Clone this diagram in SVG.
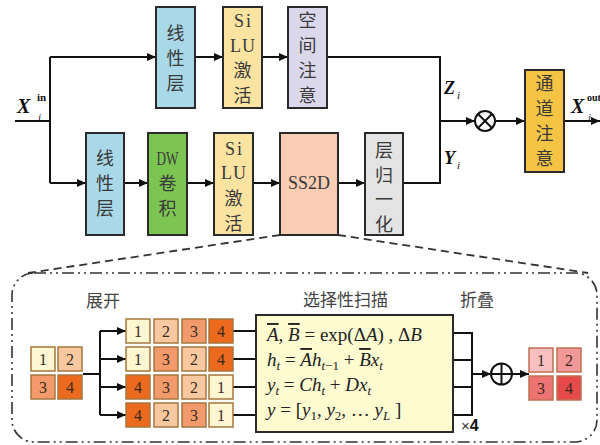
<svg xmlns="http://www.w3.org/2000/svg" width="600" height="445" viewBox="0 0 600 445">
<defs>
<marker id="arr" markerWidth="9" markerHeight="8" refX="9" refY="4" orient="auto" markerUnits="userSpaceOnUse">
<path d="M0,0 L9,4 L0,8 z" fill="#111"/>
</marker>
<style>
.box{stroke:#2a2a2a;stroke-width:2}
.cjk{font-family:"Noto Sans CJK SC","Noto Sans",sans-serif;font-size:18px;fill:#3a3a3a;text-anchor:middle}
.lat{font-family:"Liberation Serif",serif;font-size:18px;fill:#3a3a3a;text-anchor:middle}
.ln{fill:none;stroke:#111;stroke-width:2}
.var{font-family:"Liberation Serif",serif;font-weight:bold;font-style:italic;fill:#111}
.sup{font-family:"Liberation Serif",serif;font-weight:bold;font-style:normal;fill:#111}
.sub{font-family:"Liberation Serif",serif;font-weight:normal;font-style:italic;fill:#111}
.cell{stroke:#a5773e;stroke-width:1.5}
.c1{fill:#fff6d2}.c2{fill:#f8c8a0}.c3{fill:#f29a6c}.c4{fill:#ec6a1e}
.p1{fill:#f8c0c0}.p2{fill:#f29898}.p3{fill:#ee7474}.p4{fill:#e64a4a}
.pcell{stroke:#c07050;stroke-width:1.5}
.num{font-family:"Liberation Serif",serif;font-size:16px;fill:#3a2a1a;text-anchor:middle}
.lab{font-family:"Noto Sans CJK SC","Noto Sans",sans-serif;font-size:17px;fill:#444}
.math{font-family:"Liberation Serif",serif;font-style:italic;font-size:19px;fill:#222}
.up{font-style:normal}
</style>
</defs>
<rect width="600" height="445" fill="#ffffff"/>

<!-- dash-dot frame and dashed zoom lines -->
<g id="frame">
<rect x="12" y="273" width="585" height="169" rx="22" fill="none" stroke="#333" stroke-width="1.6" stroke-dasharray="12 4 2 4 2 4"/>
<line x1="280" y1="235" x2="28" y2="273" stroke="#333" stroke-width="1.8" stroke-dasharray="8 5"/>
<line x1="338" y1="235" x2="588" y2="273" stroke="#333" stroke-width="1.8" stroke-dasharray="8 5"/>
</g>

<g id="connectors">
<polyline class="ln" points="15,121 50,121"/>
<polyline class="ln" points="50,57 50,183"/>
<line class="ln" x1="50" y1="57" x2="156" y2="57" marker-end="url(#arr)"/>
<line class="ln" x1="195" y1="57" x2="223" y2="57" marker-end="url(#arr)"/>
<line class="ln" x1="262" y1="57" x2="288" y2="57" marker-end="url(#arr)"/>
<polyline class="ln" points="327,57 440,57 440,183 403,183"/>
<line class="ln" x1="50" y1="183" x2="86" y2="183" marker-end="url(#arr)"/>
<line class="ln" x1="124" y1="183" x2="148" y2="183" marker-end="url(#arr)"/>
<line class="ln" x1="187" y1="183" x2="214" y2="183" marker-end="url(#arr)"/>
<line class="ln" x1="253" y1="183" x2="280" y2="183" marker-end="url(#arr)"/>
<line class="ln" x1="338" y1="183" x2="365" y2="183" marker-end="url(#arr)"/>
<line class="ln" x1="440" y1="121" x2="475" y2="121" marker-end="url(#arr)"/>
<line class="ln" x1="495" y1="121" x2="525" y2="121" marker-end="url(#arr)"/>
<line class="ln" x1="564" y1="121" x2="600" y2="121" marker-end="url(#arr)"/>
<!-- bottom -->
<polyline class="ln" points="83,374 100,374"/>
<polyline class="ln" points="100,331 100,415"/>
<line class="ln" x1="100" y1="331" x2="126" y2="331" marker-end="url(#arr)"/>
<line class="ln" x1="100" y1="359" x2="126" y2="359" marker-end="url(#arr)"/>
<line class="ln" x1="100" y1="387" x2="126" y2="387" marker-end="url(#arr)"/>
<line class="ln" x1="100" y1="415" x2="126" y2="415" marker-end="url(#arr)"/>
<line class="ln" x1="233" y1="331" x2="256" y2="331"/>
<line class="ln" x1="233" y1="359" x2="256" y2="359"/>
<line class="ln" x1="233" y1="387" x2="256" y2="387"/>
<line class="ln" x1="233" y1="415" x2="256" y2="415"/>
<polyline class="ln" points="453,333 472,333 472,415 453,415"/>
<line class="ln" x1="453" y1="360" x2="472" y2="360"/>
<line class="ln" x1="453" y1="387" x2="472" y2="387"/>
<line class="ln" x1="472" y1="374" x2="491" y2="374" marker-end="url(#arr)"/>
<line class="ln" x1="512" y1="374" x2="529" y2="374" marker-end="url(#arr)"/>
</g>

<g id="otimes">
<circle cx="485" cy="121" r="10" fill="#fff" stroke="#111" stroke-width="2"/>
<line x1="478" y1="114" x2="492" y2="128" stroke="#111" stroke-width="2"/>
<line x1="492" y1="114" x2="478" y2="128" stroke="#111" stroke-width="2"/>
</g>
<g id="oplus">
<circle cx="501.5" cy="374" r="10.5" fill="#fff" stroke="#111" stroke-width="2"/>
<line x1="491" y1="374" x2="512" y2="374" stroke="#111" stroke-width="2"/>
<line x1="501.5" y1="363.5" x2="501.5" y2="384.5" stroke="#111" stroke-width="2"/>
</g>

<g id="x-in">
<text class="var" x="17" y="113" font-size="20">X</text>
<text class="sup" x="37" y="101" font-size="11">in</text>
<text class="sub" x="38" y="121" font-size="11">i</text>
</g>
<g id="z-label">
<text class="var" x="444" y="94" font-size="18">Z</text>
<text class="sub" x="457" y="99" font-size="11">i</text>
</g>
<g id="y-label">
<text class="var" x="444" y="164" font-size="18">Y</text>
<text class="sub" x="457" y="169" font-size="11">i</text>
</g>
<g id="x-out">
<text class="var" x="571" y="113" font-size="20">X</text>
<text class="sup" x="587" y="101" font-size="10">out</text>
<text class="sub" x="588" y="121" font-size="11">i</text>
</g>

<g id="linear-top">
<rect class="box" x="156" y="7" width="39" height="101" fill="#a9d9e8"/>
<text class="cjk" x="175.5" y="40">线</text>
<text class="cjk" x="175.5" y="65">性</text>
<text class="cjk" x="175.5" y="90">层</text>
</g>
<g id="silu-top">
<rect class="box" x="223" y="7" width="39" height="101" fill="#fbe3a2"/>
<text class="lat" x="243.5" y="27" letter-spacing="2">Si</text>
<text class="lat" x="243" y="52" letter-spacing="1">LU</text>
<text class="cjk" x="242.5" y="77">激</text>
<text class="cjk" x="242.5" y="102">活</text>
</g>
<g id="spatial-attn">
<rect class="box" x="288" y="7" width="39" height="101" fill="#dcd8ec"/>
<text class="cjk" x="307.5" y="27">空</text>
<text class="cjk" x="307.5" y="52">间</text>
<text class="cjk" x="307.5" y="77">注</text>
<text class="cjk" x="307.5" y="102">意</text>
</g>

<g id="linear-bottom">
<rect class="box" x="86" y="133" width="38" height="102" fill="#a9d9e8"/>
<text class="cjk" x="105" y="165">线</text>
<text class="cjk" x="105" y="190">性</text>
<text class="cjk" x="105" y="215">层</text>
</g>
<g id="dwconv">
<rect class="box" x="148" y="133" width="39" height="102" fill="#7cc552"/>
<text class="lat" x="167.5" y="165" font-size="15" textLength="22" lengthAdjust="spacingAndGlyphs">DW</text>
<text class="cjk" x="167.5" y="190">卷</text>
<text class="cjk" x="167.5" y="215">积</text>
</g>
<g id="silu-bottom">
<rect class="box" x="214" y="133" width="39" height="102" fill="#fbe3a2"/>
<text class="lat" x="234.5" y="155" letter-spacing="2">Si</text>
<text class="lat" x="234" y="179" letter-spacing="1">LU</text>
<text class="cjk" x="233.5" y="205">激</text>
<text class="cjk" x="233.5" y="230">活</text>
</g>
<g id="ss2d">
<rect class="box" x="280" y="133" width="58" height="102" fill="#f9cdb3"/>
<text class="lat" x="309" y="189">SS2D</text>
</g>
<g id="layernorm">
<rect class="box" x="365" y="133" width="38" height="102" fill="#e4e4e4"/>
<text class="cjk" x="384" y="157">层</text>
<text class="cjk" x="384" y="182">归</text>
<text class="cjk" x="384" y="206">一</text>
<text class="cjk" x="384" y="231">化</text>
</g>
<g id="channel-attn">
<rect class="box" x="525" y="70" width="39" height="102" fill="#f5c444"/>
<text class="cjk" x="544.5" y="90">通</text>
<text class="cjk" x="544.5" y="115">道</text>
<text class="cjk" x="544.5" y="140">注</text>
<text class="cjk" x="544.5" y="165">意</text>
</g>

<g id="labels">
<text class="lab" x="86" y="307">展开</text>
<text class="lab" x="303" y="306">选择性扫描</text>
<text class="lab" x="460" y="306">折叠</text>
<text x="461" y="431" font-family="Liberation Sans, sans-serif" font-size="15" fill="#333">×<tspan font-weight="bold" fill="#111" font-size="16">4</tspan></text>
</g>

<g id="input-grid">
<rect class="cell c1" x="31" y="347" width="24" height="24"/><text class="num" x="43" y="365">1</text>
<rect class="cell c2" x="58" y="347" width="24" height="24"/><text class="num" x="70" y="365">2</text>
<rect class="cell c3" x="31" y="375" width="24" height="24"/><text class="num" x="43" y="393">3</text>
<rect class="cell c4" x="58" y="375" width="24" height="24"/><text class="num" x="70" y="393">4</text>
</g>

<g id="unfold-grid">
<rect class="cell c1" x="126" y="319" width="24" height="24"/><text class="num" x="138" y="337">1</text>
<rect class="cell c2" x="154" y="319" width="24" height="24"/><text class="num" x="166" y="337">2</text>
<rect class="cell c3" x="182" y="319" width="24" height="24"/><text class="num" x="194" y="337">3</text>
<rect class="cell c4" x="209" y="319" width="24" height="24"/><text class="num" x="221" y="337">4</text>

<rect class="cell c1" x="126" y="347" width="24" height="24"/><text class="num" x="138" y="365">1</text>
<rect class="cell c3" x="154" y="347" width="24" height="24"/><text class="num" x="166" y="365">3</text>
<rect class="cell c2" x="182" y="347" width="24" height="24"/><text class="num" x="194" y="365">2</text>
<rect class="cell c4" x="209" y="347" width="24" height="24"/><text class="num" x="221" y="365">4</text>

<rect class="cell c4" x="126" y="375" width="24" height="24"/><text class="num" x="138" y="393">4</text>
<rect class="cell c3" x="154" y="375" width="24" height="24"/><text class="num" x="166" y="393">3</text>
<rect class="cell c2" x="182" y="375" width="24" height="24"/><text class="num" x="194" y="393">2</text>
<rect class="cell c1" x="209" y="375" width="24" height="24"/><text class="num" x="221" y="393">1</text>

<rect class="cell c4" x="126" y="403" width="24" height="24"/><text class="num" x="138" y="421">4</text>
<rect class="cell c2" x="154" y="403" width="24" height="24"/><text class="num" x="166" y="421">2</text>
<rect class="cell c3" x="182" y="403" width="24" height="24"/><text class="num" x="194" y="421">3</text>
<rect class="cell c1" x="209" y="403" width="24" height="24"/><text class="num" x="221" y="421">1</text>
</g>

<g id="selective-scan">
<rect class="box" x="256" y="315" width="197" height="117" fill="#fefbd0"/>
<text class="math" x="267" y="341"><tspan text-decoration="overline">A</tspan><tspan class="up">, </tspan><tspan text-decoration="overline">B</tspan><tspan class="up"> = exp(Δ</tspan>A<tspan class="up">) , Δ</tspan>B</text>
<text class="math" x="267" y="366">h<tspan font-size="13" dy="4">t</tspan><tspan class="up" dy="-4"> = </tspan><tspan text-decoration="overline">A</tspan>h<tspan font-size="13" dy="4">t<tspan class="up">−1</tspan></tspan><tspan class="up" dy="-4"> + </tspan><tspan text-decoration="overline">B</tspan>x<tspan font-size="13" dy="4">t</tspan></text>
<text class="math" x="267" y="391">y<tspan font-size="13" dy="4">t</tspan><tspan class="up" dy="-4"> = </tspan>Ch<tspan font-size="13" dy="4">t</tspan><tspan class="up" dy="-4"> + </tspan>Dx<tspan font-size="13" dy="4">t</tspan></text>
<text class="math" x="267" y="416">y<tspan class="up"> = [</tspan>y<tspan class="up" font-size="13" dy="4">1</tspan><tspan class="up" dy="-4">, </tspan>y<tspan class="up" font-size="13" dy="4">2</tspan><tspan class="up" dy="-4">, … </tspan>y<tspan font-size="13" dy="4">L</tspan><tspan class="up" dy="-4"> ]</tspan></text>
</g>

<g id="fold-grid">
<rect class="pcell p1" x="529" y="348" width="24" height="24"/><text class="num" x="541" y="366">1</text>
<rect class="pcell p2" x="557" y="348" width="24" height="24"/><text class="num" x="569" y="366">2</text>
<rect class="pcell p3" x="529" y="376" width="24" height="24"/><text class="num" x="541" y="394">3</text>
<rect class="pcell p4" x="557" y="376" width="24" height="24"/><text class="num" x="569" y="394">4</text>
</g>
</svg>
